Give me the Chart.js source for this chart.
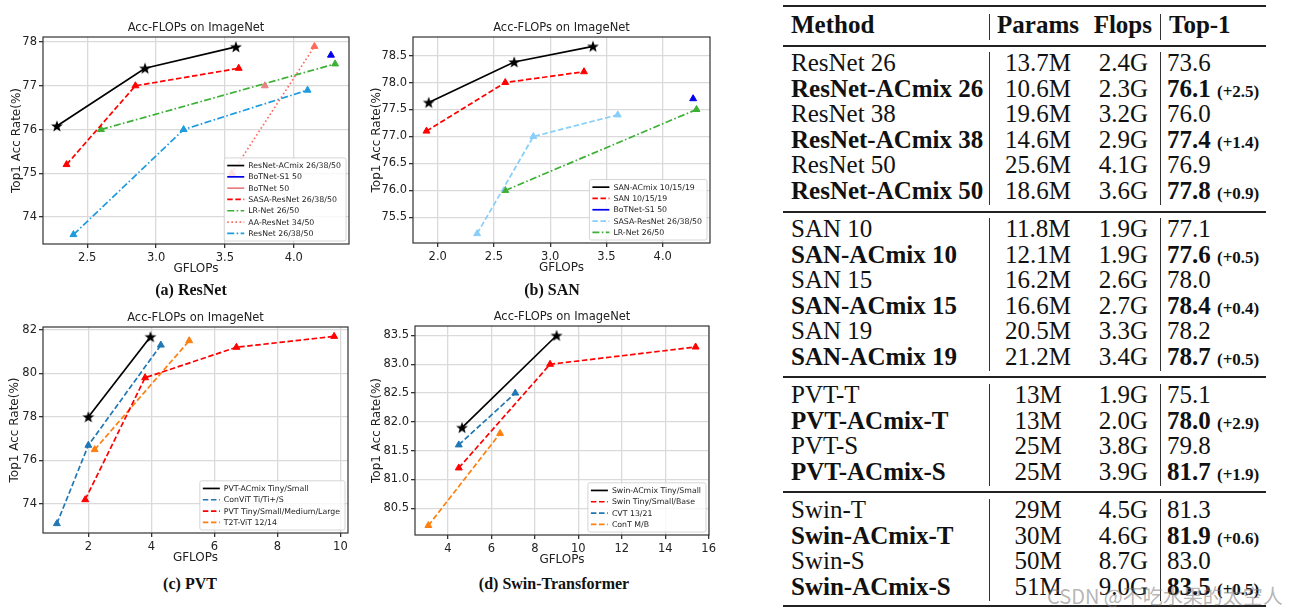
<!DOCTYPE html>
<html>
<head>
<meta charset="utf-8">
<script src="https://cdn.jsdelivr.net/npm/chart.js@4.4.0/dist/chart.umd.min.js"></script>
<style>
  body { margin: 0; background: #fff; width: 1304px; height: 615px; position: relative; overflow: hidden; }
  canvas { position: absolute; }
  .cap { position: absolute; font-family: "Liberation Serif", serif; font-weight: bold; font-size: 16px; color: #111;
         transform: translate(-50%, -50%); white-space: nowrap; }
  .t { position: absolute; font-family: "Liberation Serif", serif; font-size: 25px; line-height: 24px; height: 24px;
       white-space: nowrap; color: #111; }
  .t b { font-weight: bold; }
  .g { font-size: 17px; font-weight: bold; }
  .rule { position: absolute; left: 783px; width: 483px; background: #222; }
  .vbar { position: absolute; width: 1.3px; background: #333; }
  .wm { position: absolute; left: 1047px; top: 581px; font-family: "Noto Sans CJK SC", sans-serif; font-size: 20px;
        color: rgba(120,120,120,0.55); white-space: nowrap; }
</style>
</head>
<body>
<canvas id="chartA" width="360" height="282" style="left:0;top:0"></canvas>
<canvas id="chartB" width="352" height="282" style="left:368px;top:0"></canvas>
<canvas id="chartC" width="360" height="282" style="left:0;top:290px"></canvas>
<canvas id="chartD" width="352" height="282" style="left:368px;top:289px"></canvas>
<div class="cap" style="left:191px;top:290px">(a) ResNet</div>
<div class="cap" style="left:552px;top:290px">(b) SAN</div>
<div class="cap" style="left:190px;top:584px">(c) PVT</div>
<div class="cap" style="left:554px;top:584px">(d) Swin-Transformer</div>
<div id="tbl"></div>
<div class="wm">CSDN @不吃水果的太空人</div>
<script>
// (a) ResNet
const aAcmixFlops = [2.28, 2.92, 3.58], aAcmixTop1 = [76.08, 77.4, 77.89];
const aBotS1Flops = [4.27], aBotS1Top1 = [77.7];
const aBotFlops = [3.79], aBotTop1 = [77.0];
const aSasaFlops = [2.35, 2.85, 3.6], aSasaTop1 = [75.2, 77.0, 77.4];
const aLrFlops = [2.6, 4.3], aLrTop1 = [76.0, 77.5];
const aAaFlops = [3.55, 4.15], aAaTop1 = [75.0, 77.9];
const aResFlops = [2.4, 3.2, 4.1], aResTop1 = [73.6, 76.0, 76.9];
const aXTicks = [2.5, 3.0, 3.5, 4.0], aYTicks = [74, 75, 76, 77, 78];

// (b) SAN
const bAcmixFlops = [1.92, 2.68, 3.38], bAcmixTop1 = [77.63, 78.38, 78.67];
const bSanFlops = [1.9, 2.6, 3.3], bSanTop1 = [77.1, 78.0, 78.2];
const bBotS1Flops = [4.27], bBotS1Top1 = [77.7];
const bSasaFlops = [2.35, 2.85, 3.6], bSasaTop1 = [75.2, 77.0, 77.4];
const bLrFlops = [2.6, 4.3], bLrTop1 = [76.0, 77.5];
const bXTicks = [2.0, 2.5, 3.0, 3.5, 4.0], bYTicks = [75.5, 76.0, 76.5, 77.0, 77.5, 78.0, 78.5];

// (c) PVT
const cAcmixFlops = [2.0, 3.97], cAcmixTop1 = [78.0, 81.68];
const cConvitFlops = [1.0, 2.0, 4.3], cConvitTop1 = [73.1, 76.7, 81.3];
const cPvtFlops = [1.9, 3.8, 6.7, 9.8], cPvtTop1 = [74.2, 79.8, 81.2, 81.7];
const cT2tFlops = [2.2, 5.2], cT2tTop1 = [76.5, 81.5];
const cXTicks = [2, 4, 6, 8, 10], cYTicks = [74, 76, 78, 80, 82];

// (d) Swin-Transformer
const dAcmixFlops = [4.65, 9.0], dAcmixTop1 = [81.9, 83.5];
const dSwinFlops = [4.5, 8.7, 15.4], dSwinTop1 = [81.2, 83.0, 83.3];
const dCvtFlops = [4.5, 7.1], dCvtTop1 = [81.6, 82.5];
const dContFlops = [3.1, 6.4], dContTop1 = [80.2, 81.8];
const dXTicks = [4, 6, 8, 10, 12, 14, 16], dYTicks = [80.5, 81.0, 81.5, 82.0, 82.5, 83.0, 83.5];

// table
const tableMethods = ['ResNet 26', 'ResNet-ACmix 26', 'ResNet 38', 'ResNet-ACmix 38', 'ResNet 50', 'ResNet-ACmix 50',
  'SAN 10', 'SAN-ACmix 10', 'SAN 15', 'SAN-ACmix 15', 'SAN 19', 'SAN-ACmix 19',
  'PVT-T', 'PVT-ACmix-T', 'PVT-S', 'PVT-ACmix-S',
  'Swin-T', 'Swin-ACmix-T', 'Swin-S', 'Swin-ACmix-S'];
const tableParams = ['13.7M', '10.6M', '19.6M', '14.6M', '25.6M', '18.6M',
  '11.8M', '12.1M', '16.2M', '16.6M', '20.5M', '21.2M',
  '13M', '13M', '25M', '25M', '29M', '30M', '50M', '51M'];
const tableFlops = ['2.4G', '2.3G', '3.2G', '2.9G', '4.1G', '3.6G',
  '1.9G', '1.9G', '2.6G', '2.7G', '3.3G', '3.4G',
  '1.9G', '2.0G', '3.8G', '3.9G', '4.5G', '4.6G', '8.7G', '9.0G'];
const tableTop1 = ['73.6', '76.1', '76.0', '77.4', '76.9', '77.8',
  '77.1', '77.6', '78.0', '78.4', '78.2', '78.7',
  '75.1', '78.0', '79.8', '81.7', '81.3', '81.9', '83.0', '83.5'];
const tableGain = ['', '(+2.5)', '', '(+1.4)', '', '(+0.9)',
  '', '(+0.5)', '', '(+0.4)', '', '(+0.5)',
  '', '(+2.9)', '', '(+1.9)', '', '(+0.6)', '', '(+0.5)'];
const sectionSizes = [6, 6, 4, 4];

Chart.defaults.font.family = '"DejaVu Sans", sans-serif';
Chart.defaults.color = '#222';

function starImg() {
  const c = document.createElement('canvas');
  c.width = 14; c.height = 14;
  const g = c.getContext('2d');
  g.fillStyle = '#000';
  g.beginPath();
  for (let i = 0; i < 10; i++) {
    const r = i % 2 ? 2.6 : 6.2;
    const a = -Math.PI / 2 + i * Math.PI / 5;
    g.lineTo(7 + r * Math.cos(a), 7.5 + r * Math.sin(a));
  }
  g.closePath();
  g.fill();
  return c;
}
const STAR = starImg();

const SOLID = [], DASH = [5.5, 2.6], DASHDOT = [7, 2.4, 1.6, 2.4], DOT = [1.6, 2.5];

function series(label, xs, ys, color, dash, marker, line) {
  const star = marker === 'star';
  return {
    label: label,
    data: xs.map((x, i) => ({ x: x, y: ys[i] })),
    borderColor: color,
    backgroundColor: color,
    borderWidth: 1.7,
    borderDash: dash,
    showLine: line !== false,
    pointStyle: star ? STAR : 'triangle',
    pointRadius: star ? 7 : 4,
    pointBorderWidth: star ? 0 : 1,
    pointHoverRadius: star ? 7 : 4
  };
}

function pad5(vals) {
  const lo = Math.min(...vals), hi = Math.max(...vals), m = (hi - lo) * 0.05;
  return [lo - m, hi + m];
}

// frame round the axes + matplotlib style legend in the lower right
const frameLegend = {
  id: 'frameLegend',
  afterDraw(chart) {
    const ctx = chart.ctx, a = chart.chartArea;
    ctx.save();
    ctx.setLineDash([]);
    ctx.strokeStyle = '#333';
    ctx.lineWidth = 1.2;
    ctx.strokeRect(a.left, a.top, a.right - a.left, a.bottom - a.top);

    const ds = chart.data.datasets;
    ctx.font = '7.8px "DejaVu Sans"';
    const tw = Math.max(...ds.map(d => ctx.measureText(d.label).width));
    const rowH = 11.3, pad = 2;
    const w = 24 + tw + 5, h = ds.length * rowH + 2 * pad;
    const x0 = a.right - 3 - w, y0 = a.bottom - 3 - h;
    ctx.beginPath();
    ctx.roundRect(x0, y0, w, h, 2);
    ctx.fillStyle = 'rgba(255,255,255,0.8)';
    ctx.fill();
    ctx.strokeStyle = '#cccccc';
    ctx.lineWidth = 0.8;
    ctx.stroke();
    ds.forEach((d, i) => {
      const cy = y0 + pad + rowH * (i + 0.5);
      ctx.beginPath();
      ctx.setLineDash(d.borderDash || []);
      ctx.strokeStyle = d.borderColor;
      ctx.lineWidth = 1.7;
      ctx.moveTo(x0 + 3, cy);
      ctx.lineTo(x0 + 20, cy);
      ctx.stroke();
      ctx.setLineDash([]);
      ctx.fillStyle = '#222';
      ctx.textBaseline = 'middle';
      ctx.fillText(d.label, x0 + 24, cy + 0.5);
    });
    ctx.restore();
  }
};

function makeChart(id, datasets, xTicks, xDec, yTicks, yDec, lay) {
  const xs = datasets.flatMap(d => d.data.map(p => p.x));
  const ys = datasets.flatMap(d => d.data.map(p => p.y));
  const xr = pad5(xs), yr = pad5(ys);
  const grid = { color: '#dadada', lineWidth: 1.3, tickColor: '#333', tickLength: 4 };
  const f = { size: 11.5 };
  const ft = { size: 12 };
  return new Chart(document.getElementById(id), {
    type: 'scatter',
    data: { datasets: datasets },
    options: {
      animation: false,
      responsive: false,
      layout: { padding: { left: lay.l, right: lay.r, top: 14, bottom: lay.b } },
      plugins: {
        legend: { display: false },
        tooltip: { enabled: false },
        title: { display: true, text: 'Acc-FLOPs on ImageNet', fullSize: false, color: '#222',
                 font: { size: 11.5, weight: 'normal' }, padding: { top: 7.1, bottom: 2.1 } }
      },
      scales: {
        x: {
          type: 'linear', min: xr[0], max: xr[1],
          afterBuildTicks: s => { s.ticks = xTicks.map(v => ({ value: v })); },
          afterFit: s => { s.height = 34; },
          ticks: { font: f, color: '#222', padding: 3, maxRotation: 0, autoSkip: false,
                   callback: v => v.toFixed(xDec) },
          grid: grid,
          border: { display: false },
          title: { display: true, text: 'GFLOPs', font: ft, color: '#222', padding: { top: 2, bottom: 2 } }
        },
        y: {
          type: 'linear', min: yr[0], max: yr[1],
          afterBuildTicks: s => { s.ticks = yTicks.map(v => ({ value: v })); },
          afterFit: s => { s.width = lay.yw; },
          ticks: { font: f, color: '#222', padding: 2, autoSkip: false,
                   callback: v => v.toFixed(yDec) },
          grid: grid,
          border: { display: false },
          title: { display: true, text: 'Top1 Acc Rate(%)', font: ft, color: '#222', padding: { top: 2, bottom: 2 } }
        }
      }
    },
    plugins: [frameLegend]
  });
}

makeChart('chartA', [
  series('ResNet-ACmix 26/38/50', aAcmixFlops, aAcmixTop1, '#000000', SOLID, 'star'),
  series('BoTNet-S1 50', aBotS1Flops, aBotS1Top1, '#0000ee', SOLID, 'tri', false),
  series('BoTNet 50', aBotFlops, aBotTop1, '#e88080', SOLID, 'tri', false),
  series('SASA-ResNet 26/38/50', aSasaFlops, aSasaTop1, '#ff0000', DASH, 'tri'),
  series('LR-Net 26/50', aLrFlops, aLrTop1, '#3cb034', DASHDOT, 'tri'),
  series('AA-ResNet 34/50', aAaFlops, aAaTop1, '#ff6a5c', DOT, 'tri'),
  series('ResNet 26/38/50', aResFlops, aResTop1, '#1c9be0', DASHDOT, 'tri')
], aXTicks, 1, aYTicks, 0, { l: 8, r: 11, b: 4, yw: 35 });

makeChart('chartB', [
  series('SAN-ACmix 10/15/19', bAcmixFlops, bAcmixTop1, '#000000', SOLID, 'star'),
  series('SAN 10/15/19', bSanFlops, bSanTop1, '#ff0000', DASH, 'tri'),
  series('BoTNet-S1 50', bBotS1Flops, bBotS1Top1, '#0000ee', SOLID, 'tri', false),
  series('SASA-ResNet 26/38/50', bSasaFlops, bSasaTop1, '#87cefa', DASH, 'tri'),
  series('LR-Net 26/50', bLrFlops, bLrTop1, '#3cb034', DASHDOT, 'tri')
], bXTicks, 1, bYTicks, 1, { l: 0, r: 10, b: 5, yw: 45 });

makeChart('chartC', [
  series('PVT-ACmix Tiny/Small', cAcmixFlops, cAcmixTop1, '#000000', SOLID, 'star'),
  series('ConViT Ti/Ti+/S', cConvitFlops, cConvitTop1, '#1f77b4', DASH, 'tri'),
  series('PVT Tiny/Small/Medium/Large', cPvtFlops, cPvtTop1, '#ff0000', DASH, 'tri'),
  series('T2T-ViT 12/14', cT2tFlops, cT2tTop1, '#ff7f0e', DASH, 'tri')
], cXTicks, 0, cYTicks, 0, { l: 6, r: 12, b: 5, yw: 37 });

makeChart('chartD', [
  series('Swin-ACmix Tiny/Small', dAcmixFlops, dAcmixTop1, '#000000', SOLID, 'star'),
  series('Swin Tiny/Small/Base', dSwinFlops, dSwinTop1, '#ff0000', DASH, 'tri'),
  series('CVT 13/21', dCvtFlops, dCvtTop1, '#1f77b4', DASH, 'tri'),
  series('ConT M/B', dContFlops, dContTop1, '#ff7f0e', DASH, 'tri')
], dXTicks, 0, dYTicks, 1, { l: 0, r: 11, b: 2, yw: 47 });

// table on the right
(function () {
  const tbl = document.getElementById('tbl');
  const add = (html) => tbl.insertAdjacentHTML('beforeend', html);
  const rule = (y, h) => add(`<div class="rule" style="top:${y - h / 2}px;height:${h}px"></div>`);
  const vbar = (x, y0, y1) => add(`<div class="vbar" style="left:${x}px;top:${y0}px;height:${y1 - y0}px"></div>`);

  rule(6, 2); rule(46, 1.4); rule(212, 1.4); rule(377, 1.4); rule(492, 1.4); rule(606, 2);

  // header
  add(`<div class="t" style="left:791px;top:13px"><b>Method</b></div>`);
  add(`<div class="t" style="left:1038px;top:13px;transform:translateX(-50%)"><b>Params</b></div>`);
  add(`<div class="t" style="right:${1304 - 1152}px;top:13px"><b>Flops</b></div>`);
  add(`<div class="t" style="left:1169px;top:13px"><b>Top-1</b></div>`);
  vbar(989, 14, 40); vbar(1160, 14, 40);

  const starts = [63, 229, 395, 510];
  let k = 0;
  sectionSizes.forEach((n, s) => {
    for (let i = 0; i < n; i++, k++) {
      const cy = starts[s] + i * 25.6, top = cy - 12;
      const bold = tableGain[k] !== '';
      const m = bold ? `<b>${tableMethods[k]}</b>` : tableMethods[k];
      const t1 = bold ? `<b>${tableTop1[k]}</b> <span class="g">${tableGain[k]}</span>` : tableTop1[k];
      add(`<div class="t" style="left:791px;top:${top}px">${m}</div>`);
      add(`<div class="t" style="left:1038px;top:${top}px;transform:translateX(-50%)">${tableParams[k]}</div>`);
      add(`<div class="t" style="right:${1304 - 1148}px;top:${top}px">${tableFlops[k]}</div>`);
      add(`<div class="t" style="left:1167px;top:${top}px">${t1}</div>`);
    }
    const y0 = starts[s] - 11, y1 = starts[s] + (n - 1) * 25.6 + 14;
    vbar(989, y0, y1); vbar(1160, y0, y1);
  });
})();
</script>
</body>
</html>
